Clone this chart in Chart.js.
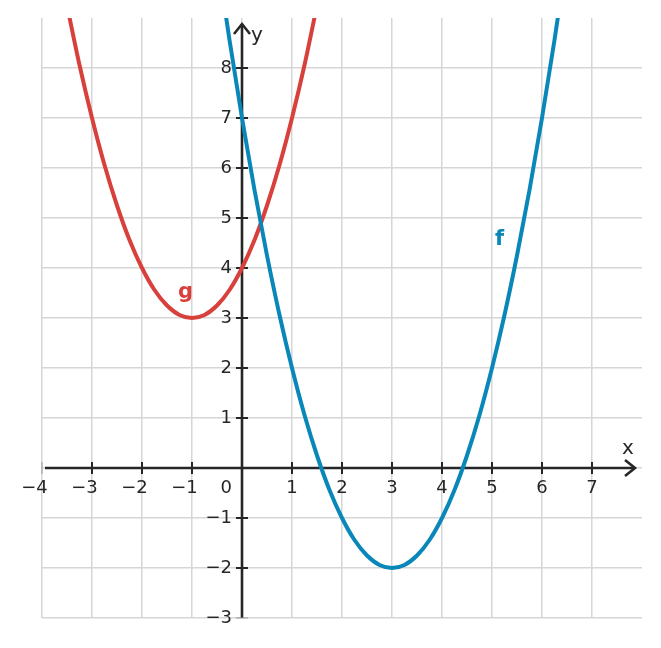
<!DOCTYPE html>
<html>
<head>
<meta charset="utf-8">
<script src="https://cdn.jsdelivr.net/npm/chart.js@4.4.1/dist/chart.umd.min.js"></script>
<style>
  body { margin: 0; background: #fff; }
  #wrap { width: 661px; height: 648px; position: relative; }
</style>
</head>
<body>
<div id="wrap"><canvas id="plot"></canvas></div>
<script>
// values
const fX = [-0.5, -0.25, 0, 0.25, 0.5, 0.75, 1, 1.25, 1.5, 1.75, 2, 2.25, 2.5, 2.75, 3,
  3.25, 3.5, 3.75, 4, 4.25, 4.5, 4.75, 5, 5.25, 5.5, 5.75, 6, 6.25, 6.5];
const fY = [10.25, 8.56, 7, 5.56, 4.25, 3.06, 2, 1.06, 0.25, -0.44, -1, -1.44, -1.75, -1.94, -2,
  -1.94, -1.75, -1.44, -1, -0.44, 0.25, 1.06, 2, 3.06, 4.25, 5.56, 7, 8.56, 10.25];
const gX = [-3.5, -3.25, -3, -2.75, -2.5, -2.25, -2, -1.75, -1.5, -1.25, -1, -0.75, -0.5,
  -0.25, 0, 0.25, 0.5, 0.75, 1, 1.25, 1.5];
const gY = [9.25, 8.06, 7, 6.06, 5.25, 4.56, 4, 3.56, 3.25, 3.06, 3, 3.06, 3.25,
  3.56, 4, 4.56, 5.25, 6.06, 7, 8.06, 9.25];
const xTicks = [-4, -3, -2, -1, 1, 2, 3, 4, 5, 6, 7];
const yTicks = [-3, -2, -1, 1, 2, 3, 4, 5, 6, 7, 8];

const blue = '#0a87b9';
const red = '#d8403b';
const ink = '#262626';

function pts(xs, ys) {
  return xs.map((x, i) => ({ x: x, y: ys[i] }));
}

// Achsen mit Pfeilen, Ticks und Beschriftung
const axesPlugin = {
  id: 'mathAxes',
  beforeDatasetsDraw(chart) {
    const ctx = chart.ctx;
    const sx = chart.scales.x, sy = chart.scales.y;
    const x0 = sx.getPixelForValue(0), y0 = sy.getPixelForValue(0);
    const area = chart.chartArea;
    ctx.save();
    ctx.strokeStyle = ink;
    ctx.fillStyle = ink;
    ctx.lineCap = 'butt';

    // x axis
    ctx.lineWidth = 2.6;
    const xEnd = area.right - 7;
    ctx.beginPath();
    ctx.moveTo(area.left + 3, y0);
    ctx.lineTo(xEnd, y0);
    ctx.stroke();
    ctx.beginPath();
    ctx.moveTo(xEnd - 10, y0 - 8);
    ctx.lineTo(xEnd, y0);
    ctx.lineTo(xEnd - 10, y0 + 8);
    ctx.stroke();

    // y axis
    const yEnd = area.top + 6;
    ctx.beginPath();
    ctx.moveTo(x0, area.bottom);
    ctx.lineTo(x0, yEnd);
    ctx.stroke();
    ctx.beginPath();
    ctx.moveTo(x0 - 8, yEnd + 10);
    ctx.lineTo(x0, yEnd);
    ctx.lineTo(x0 + 8, yEnd + 10);
    ctx.stroke();

    ctx.font = '18px "DejaVu Sans"';
    ctx.textBaseline = 'middle';
    ctx.lineWidth = 2;
    xTicks.forEach(v => {
      const px = sx.getPixelForValue(v);
      ctx.strokeStyle = v === -4 ? '#999' : ink;
      ctx.lineWidth = v === -4 ? 1 : 2;
      ctx.beginPath();
      ctx.moveTo(px, y0 - 6);
      ctx.lineTo(px, y0 + 6);
      ctx.stroke();
      ctx.textAlign = 'right';
      ctx.fillText(String(v).replace('-', '\u2212'), px + 5.7, y0 + 20);
    });
    yTicks.forEach(v => {
      const py = sy.getPixelForValue(v);
      ctx.strokeStyle = v === -3 ? '#999' : ink;
      ctx.lineWidth = v === -3 ? 1 : 2;
      ctx.beginPath();
      ctx.moveTo(x0 - 6, py);
      ctx.lineTo(x0 + 6, py);
      ctx.stroke();
      ctx.textAlign = 'right';
      ctx.fillText(String(v).replace('-', '\u2212'), x0 - 10, py);
    });
    ctx.textAlign = 'right';
    ctx.fillText('0', x0 - 10, y0 + 20);

    ctx.font = '20px "DejaVu Sans"';
    ctx.textAlign = 'center';
    ctx.fillText('x', area.right - 14, y0 - 19);
    ctx.fillText('y', x0 + 15, area.top + 18);

    ctx.font = 'bold 21px "DejaVu Sans"';
    ctx.fillStyle = blue;
    ctx.fillText('f', sx.getPixelForValue(5.15), sy.getPixelForValue(4.57));
    ctx.fillStyle = red;
    ctx.fillText('g', sx.getPixelForValue(-1.13), sy.getPixelForValue(3.5));
    ctx.restore();
  }
};

new Chart(document.getElementById('plot'), {
  type: 'scatter',
  data: {
    datasets: [
      {
        label: 'f',
        data: pts(fX, fY),
        showLine: true,
        borderColor: blue,
        borderWidth: 4,
        pointRadius: 0,
        cubicInterpolationMode: 'monotone'
      },
      {
        label: 'g',
        data: pts(gX, gY),
        showLine: true,
        borderColor: red,
        borderWidth: 4,
        pointRadius: 0,
        cubicInterpolationMode: 'monotone'
      }
    ]
  },
  options: {
    responsive: true,
    maintainAspectRatio: false,
    animation: false,
    layout: { padding: { left: 42, right: 19, top: 18, bottom: 30 } },
    plugins: { legend: { display: false }, tooltip: { enabled: false } },
    scales: {
      x: {
        type: 'linear', min: -4, max: 8,
        ticks: { display: false, stepSize: 1 },
        border: { display: false },
        grid: {
          drawTicks: false,
          lineWidth: 1.5,
          color: c => c.tick.value === 8 ? 'rgba(0,0,0,0)' : '#d6d6d6'
        }
      },
      y: {
        type: 'linear', min: -3, max: 9,
        ticks: { display: false, stepSize: 1 },
        border: { display: false },
        grid: {
          drawTicks: false,
          lineWidth: 1.5,
          color: c => c.tick.value === 9 ? 'rgba(0,0,0,0)' : '#d6d6d6'
        }
      }
    }
  },
  plugins: [axesPlugin]
});
</script>
</body>
</html>
